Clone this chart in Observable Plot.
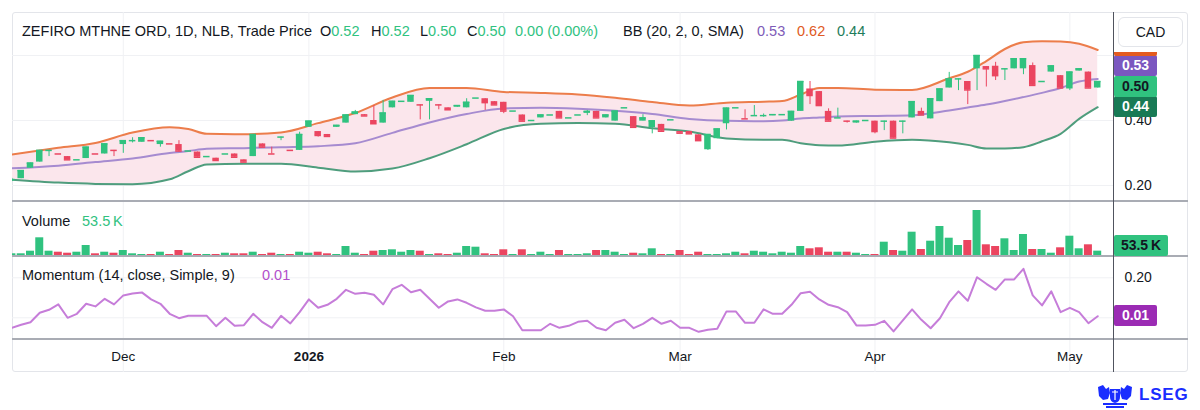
<!DOCTYPE html>
<html><head><meta charset="utf-8">
<script src="https://cdn.jsdelivr.net/npm/d3@7"></script>
<script src="https://cdn.jsdelivr.net/npm/@observablehq/plot@0.6"></script>
<style>
html,body{margin:0;padding:0;background:#fff;}
#wrap{position:relative;width:1200px;height:410px;overflow:hidden;background:#fff;font-family:"Liberation Sans",Arial,sans-serif;color:#131722;}
.a{position:absolute;white-space:nowrap;}
.pane{position:absolute;left:0;}
.pane svg{display:block;overflow:visible;}
.badge{position:absolute;left:0;height:21px;line-height:21px;text-align:center;font-size:14px;font-weight:bold;border-radius:2px;}
.hdr{font-size:14.5px;line-height:18px;}
</style></head>
<body><div id="wrap"></div>
<script>
// ---------- DATA (bar index -1 .. 116) ----------
const firstIdx = -1;
const open  = [.215,.221,.253,.272,.308,.297,.289,.279,.283,.297,.297,.308,.326,.338,.333,.338,.326,.328,.326,.306,.303,.289,.284,.297,.297,.279,.289,.328,.297,.349,.308,.308,.379,.366,.357,.379,.392,.418,.418,.400,.392,.439,.459,.456,.448,.459,.448,.439,.441,.439,.469,.467,.458,.456,.429,.417,.400,.408,.417,.428,.408,.417,.422,.428,.408,.398,.439,.412,.398,.378,.388,.402,.366,.366,.356,.310,.344,.390,.439,.405,.415,.415,.415,.418,.398,.428,.497,.489,.428,.408,.398,.392,.400,.398,.398,.398,.398,.408,.428,.405,.458,.500,.528,.520,.559,.566,.567,.559,.559,.559,.569,.520,.549,.538,.497,.552,.549,.500];
const high  = [.222,.246,.269,.308,.308,.297,.289,.279,.318,.297,.328,.308,.338,.347,.347,.338,.336,.328,.338,.306,.303,.289,.284,.297,.297,.279,.357,.328,.318,.349,.308,.364,.398,.366,.357,.385,.417,.431,.418,.446,.462,.459,.459,.477,.448,.467,.448,.439,.446,.467,.469,.467,.458,.456,.429,.417,.400,.417,.417,.428,.408,.417,.431,.428,.417,.429,.439,.412,.418,.399,.388,.402,.366,.366,.356,.357,.374,.438,.439,.433,.446,.420,.418,.418,.428,.520,.520,.489,.436,.438,.398,.398,.400,.398,.398,.398,.398,.458,.438,.467,.497,.548,.528,.520,.600,.566,.579,.559,.590,.590,.577,.520,.568,.538,.549,.559,.549,.520];
const low   = [.212,.221,.253,.272,.289,.297,.279,.279,.283,.297,.297,.289,.299,.331,.333,.338,.318,.328,.303,.306,.287,.289,.277,.297,.287,.272,.289,.318,.297,.338,.308,.308,.379,.349,.351,.379,.392,.418,.414,.388,.392,.439,.459,.456,.402,.402,.433,.433,.441,.439,.469,.431,.448,.421,.429,.398,.400,.408,.417,.408,.408,.417,.415,.408,.408,.398,.439,.379,.399,.359,.367,.402,.361,.359,.338,.308,.344,.371,.439,.405,.415,.410,.415,.418,.398,.428,.449,.446,.398,.408,.392,.392,.400,.359,.369,.346,.359,.408,.417,.405,.458,.500,.492,.449,.492,.503,.523,.523,.559,.541,.508,.520,.549,.500,.492,.552,.500,.500];
const close = [.218,.246,.269,.308,.308,.297,.279,.279,.318,.297,.328,.308,.338,.338,.347,.338,.336,.328,.306,.306,.287,.289,.277,.297,.287,.272,.357,.318,.297,.349,.308,.357,.398,.354,.351,.385,.417,.426,.414,.390,.423,.459,.459,.477,.448,.467,.448,.433,.446,.456,.469,.455,.448,.429,.429,.398,.400,.417,.417,.408,.408,.417,.428,.408,.417,.429,.439,.379,.408,.399,.367,.402,.361,.359,.338,.357,.374,.438,.439,.405,.415,.415,.418,.418,.428,.520,.477,.446,.398,.408,.398,.398,.400,.366,.398,.346,.398,.458,.417,.467,.497,.528,.528,.494,.600,.559,.538,.559,.590,.590,.508,.520,.568,.500,.549,.559,.500,.520];
const volumeK = [27,27,53,187,53,43,33,43,110,27,43,33,60,27,20,20,43,20,60,33,20,20,20,33,27,27,43,20,33,20,20,43,33,43,27,20,100,33,20,53,60,67,43,60,53,20,27,20,33,100,93,27,20,67,20,67,20,43,20,60,20,20,27,60,60,43,20,33,27,77,20,20,60,20,43,20,20,27,43,27,53,43,27,43,33,100,77,87,43,43,43,33,20,20,143,60,53,243,70,153,300,183,110,160,460,117,100,177,60,220,70,70,33,87,203,77,117,53.5];
const momentum = [-0.050,-0.035,-0.022,0.025,0.040,0.067,0.000,0.020,0.070,0.057,0.095,0.067,0.112,0.122,0.127,0.092,0.070,0.020,-0.002,0.010,0.010,0.010,-0.042,0.000,-0.040,-0.037,0.020,-0.022,-0.050,0.010,-0.028,0.028,0.092,0.050,0.065,0.095,0.140,0.120,0.125,0.115,0.067,0.143,0.165,0.128,0.140,0.095,0.050,0.082,0.092,0.075,0.052,0.035,0.035,0.042,0.008,-0.062,-0.062,-0.062,-0.030,-0.050,-0.040,-0.020,-0.015,-0.050,-0.062,-0.025,-0.010,-0.052,-0.030,0.000,-0.030,-0.015,-0.050,-0.050,-0.070,-0.060,-0.055,0.032,0.032,-0.025,-0.025,0.042,0.020,0.020,0.065,0.123,0.130,0.092,0.065,0.053,0.028,-0.038,-0.038,-0.035,-0.015,-0.068,-0.013,0.042,-0.010,-0.052,-0.002,0.078,0.132,0.085,0.203,0.170,0.140,0.192,0.192,0.245,0.112,0.062,0.132,0.028,0.050,0.028,-0.027,0.008];

// Bollinger Bands read at sampled bars
const bbIdx   = [-1,4,8,12,16,18,20,24,28,32,36,40,44,48,52,56,60,64,68,72,76,80,82,84,86,88,92,96,100,102,104,106,108,110,112,114,116];
const bbUpper = [.295,.316,.331,.363,.379,.374,.359,.358,.363,.392,.423,.471,.500,.500,.488,.485,.480,.470,.457,.446,.455,.458,.460,.480,.500,.500,.495,.494,.530,.550,.583,.620,.641,.644,.643,.636,.617];
const bbBasis = [.253,.261,.272,.283,.300,.306,.313,.315,.318,.321,.330,.362,.394,.420,.437,.439,.436,.430,.420,.405,.399,.398,.400,.406,.409,.412,.414,.416,.431,.440,.449,.460,.472,.485,.500,.520,.528];
const bbLower = [.218,.209,.205,.204,.219,.244,.265,.267,.267,.255,.243,.252,.284,.327,.374,.390,.392,.390,.376,.366,.345,.341,.341,.330,.324,.323,.335,.341,.333,.325,.314,.314,.318,.336,.359,.405,.441];

const monthTickIdx = [11,31,52,71,92,113];
const monthTickLabels = ["Dec","2026","Feb","Mar","Apr","May"];
const priceGrid = [0.2,0.4,0.6];
const priceTickLabels = [0.2,0.4];      // 0.60 is hidden behind the badges
const momGrid = [0,0.2];
const momTickLabels = [0.2];            // 0.00 is hidden behind the badge

const headerTitle = "ZEFIRO MTHNE ORD, 1D, NLB, Trade Price";
const headerOHLC = [["O","0.52"],["H","0.52"],["L","0.50"],["C","0.50"]];
const headerChange = "0.00 (0.00%)";
const lastPrice = 0.50;

// ---------- BUILD ----------
const G = "#30c27f", R = "#eb4560", gridC = "#f0f1f4";
const bars = open.map((o,k)=>({i:k+firstIdx, o, h:high[k], l:low[k], c:close[k], v:volumeK[k], m:momentum[k]}));
bars.forEach((d,k)=>{ d.col = d.c>d.o ? G : d.c<d.o ? R : (k===0 || d.c>=bars[k-1].c ? G : R); });
const bb = bbIdx.map((i,k)=>({i, up:bbUpper[k], mid:bbBasis[k], lo:bbLower[k]}));
const ticks = monthTickIdx.map((i,k)=>({i, label:monthTickLabels[k], year:/^\d{4}$/.test(monthTickLabels[k])}));

const wrap = document.getElementById("wrap");
function el(tag, css, html){ const e=document.createElement(tag); e.style.cssText=css; if(html!=null) e.innerHTML=html; wrap.appendChild(e); return e; }

const xOpt = {domain:[-0.9375, 117.81], axis:null};
const common = {width:1200, marginLeft:12, marginRight:86,
  style:{background:"transparent", overflow:"visible", fontFamily:"Liberation Sans, Arial, sans-serif", fontSize:"14px", color:"#131722"}};

// frame
el("div","position:absolute;left:12px;top:12px;width:1176px;height:360px;border:1px solid #e3e5ea;box-sizing:border-box;border-radius:3px;");

const price = Plot.plot({...common, height:201, marginTop:12, marginBottom:0,
  x:xOpt, y:{domain:[0.1508,0.7323], axis:null},
  marks:[
    Plot.ruleY(priceGrid,{stroke:gridC}),
    Plot.ruleX(monthTickIdx,{x:d=>d, stroke:gridC}),
    Plot.areaY(bb,{x:"i", y1:"lo", y2:"up", fill:"#fbe6ec", curve:"monotone-x", clip:true}),
    Plot.line(bb,{x:"i", y:"up", stroke:"#ec7d4b", strokeWidth:2, curve:"monotone-x", clip:true}),
    Plot.line(bb,{x:"i", y:"mid", stroke:"#a68bd0", strokeWidth:2, curve:"monotone-x", clip:true}),
    Plot.line(bb,{x:"i", y:"lo", stroke:"#4f9d7d", strokeWidth:2, curve:"monotone-x", clip:true}),
    Plot.ruleX(bars,{x:"i", y1:"l", y2:"h", stroke:"col", strokeWidth:1, clip:true}),
    Plot.rect(bars,{x1:d=>d.i-0.35, x2:d=>d.i+0.35, y1:d=>Math.min(d.o,d.c), y2:d=>Math.max(d.o,d.c), fill:"col", clip:true}),
    Plot.ruleY(bars,{x1:d=>d.i-0.35, x2:d=>d.i+0.35, y:"c", stroke:"col", strokeWidth:1.5, clip:true}),
    Plot.axisY({anchor:"right", ticks:priceTickLabels, tickSize:0, tickPadding:10, tickFormat:d3.format(".2f"), fontSize:14, label:null})
  ]});
const pDiv = el("div","position:absolute;left:0;top:0;"); pDiv.appendChild(price);

const vol = Plot.plot({...common, height:55, marginTop:0, marginBottom:0,
  x:xOpt, y:{domain:[0,550], axis:null},
  marks:[
    Plot.ruleX(monthTickIdx,{x:d=>d, stroke:gridC}),
    Plot.rectY(bars,{x1:d=>d.i-0.43, x2:d=>d.i+0.43, y:"v", fill:"col", clip:true})
  ]});
const vDiv = el("div","position:absolute;left:0;top:201px;"); vDiv.appendChild(vol);

const mom = Plot.plot({...common, height:116, marginTop:0, marginBottom:33,
  x:xOpt, y:{domain:[-0.1085,0.3065], axis:null},
  marks:[
    Plot.ruleY(momGrid,{stroke:gridC}),
    Plot.ruleX(monthTickIdx,{x:d=>d, y1:()=>-0.2735, y2:()=>0.3065, stroke:gridC}),
    Plot.line(bars,{x:"i", y:"m", stroke:"#c67dd9", strokeWidth:2, clip:true}),
    Plot.axisY({anchor:"right", ticks:momTickLabels, tickSize:0, tickPadding:10, tickFormat:d3.format(".2f"), fontSize:14, label:null}),
    Plot.text(ticks.filter(d=>!d.year),{x:"i", text:"label", frameAnchor:"bottom", dy:21, fontSize:13.5, fill:"#131722"}),
    Plot.text(ticks.filter(d=>d.year),{x:"i", text:"label", frameAnchor:"bottom", dy:21, fontSize:13.5, fontWeight:"bold", fill:"#131722"})
  ]});
const mDiv = el("div","position:absolute;left:0;top:256px;"); mDiv.appendChild(mom);

// pane separators and price-axis line
[200,255,338].forEach(t=>el("div",`position:absolute;left:12px;top:${t}px;width:1176px;height:2px;background:#a9acb4;`));
el("div","position:absolute;left:1113px;top:12px;width:1px;height:360px;background:#50535e;");

// ---------- header texts ----------
const hTop = 22;
el("div",`position:absolute;left:22px;top:${hTop}px;`, headerTitle).className="a hdr";
const ohlcLeft = [320,371,420,467];
headerOHLC.forEach(([k,v],j)=>{ el("div",`position:absolute;left:${ohlcLeft[j]}px;top:${hTop}px;`, `${k}<span style="color:${G}">${v}</span>`).className="a hdr"; });
el("div",`position:absolute;left:515px;top:${hTop}px;color:${G};`, headerChange).className="a hdr";
el("div",`position:absolute;left:623px;top:${hTop}px;`, "BB (20, 2, 0, SMA)").className="a hdr";
const f2 = d3.format(".2f");
el("div",`position:absolute;left:757px;top:${hTop}px;color:#7e5bb8;`, f2(bbBasis.at(-1))).className="a hdr";
el("div",`position:absolute;left:797px;top:${hTop}px;color:#e05a24;`, f2(bbUpper.at(-1))).className="a hdr";
el("div",`position:absolute;left:837px;top:${hTop}px;color:#1e7d5c;`, f2(bbLower.at(-1))).className="a hdr";

el("div","position:absolute;left:22px;top:212px;", "Volume").className="a hdr";
el("div",`position:absolute;left:82px;top:212px;color:${G};`, `${volumeK.at(-1)}\u2009K`).className="a hdr";
el("div","position:absolute;left:22px;top:266px;", "Momentum (14, close, Simple, 9)").className="a hdr";
el("div","position:absolute;left:262px;top:266px;color:#b24fcb;", f2(momentum.at(-1))).className="a hdr";

// CAD box
el("div","position:absolute;left:1118px;top:17px;width:65px;height:30px;border:1px solid #e3e5ea;border-radius:6px;box-sizing:border-box;background:#fff;text-align:center;line-height:28px;font-size:14px;", "CAD");

// ---------- axis badges via scales ----------
const py = price.scale("y");
const bWrap = el("div","position:absolute;left:1114px;top:52px;width:60px;height:149px;overflow:hidden;");
const items = [
  {v:bbLower.at(-1), bg:"#187a55", fg:"#fff", txt:true},
  {v:lastPrice, bg:G, fg:"#131722", txt:true},
  {v:bbBasis.at(-1), bg:"#7b57c0", fg:"#fff", txt:true},
  {v:bbUpper.at(-1), bg:"#e35a1f", fg:"#fff", txt:false}   // mostly hidden under the CAD area
];
let prev = Infinity; const BH = 20.5;
items.forEach(it=>{
  let c = Math.min(py.apply(it.v), prev - BH); prev = c;
  const b = document.createElement("div"); b.className="badge";
  b.style.cssText += `top:${c-10.5-52}px;width:43px;background:${it.bg};color:${it.fg};`;
  if (it.txt) b.textContent = f2(it.v);
  bWrap.appendChild(b);
});
const vy = vol.scale("y");
{ const c = Math.min(201+vy.apply(volumeK.at(-1)), 256-10.5);
  const b = el("div",`top:${c-10.5}px;width:54px;background:${G};color:#131722;`, `${volumeK.at(-1)}\u2009K`); b.className="badge"; b.style.left="1114px"; }
const my = mom.scale("y");
{ const c = 256+my.apply(momentum.at(-1));
  const b = el("div",`top:${c-10.5}px;width:43px;background:#9b2bb4;color:#fff;`, f2(momentum.at(-1))); b.className="badge"; b.style.left="1114px"; }

// ---------- LSEG mark ----------
el("div","position:absolute;left:1097px;top:384px;width:36px;height:25px;",
 `<svg width="36" height="25" viewBox="0 0 36 25"><g fill="#1a2dff">
 <path d="M1 3 L6 1 L9 5 L12 3 L13 9 L11 15 L6 16 L2 12 Z"/>
 <path d="M35 3 L30 1 L27 5 L24 3 L23 9 L25 15 L30 16 L34 12 Z"/>
 <path d="M13 5 H23 V13 Q23 18 18 19 Q13 18 13 13 Z"/>
 <rect x="6" y="19" width="24" height="2"/><rect x="9" y="22" width="18" height="2"/>
 </g><path d="M15 8 H21 M18 6 V16" stroke="#fff" stroke-width="1.2"/></svg>`);
el("div","position:absolute;left:1139px;top:385px;font-size:17px;font-weight:bold;color:#1a2dff;letter-spacing:0.8px;","LSEG");
</script></body></html>
